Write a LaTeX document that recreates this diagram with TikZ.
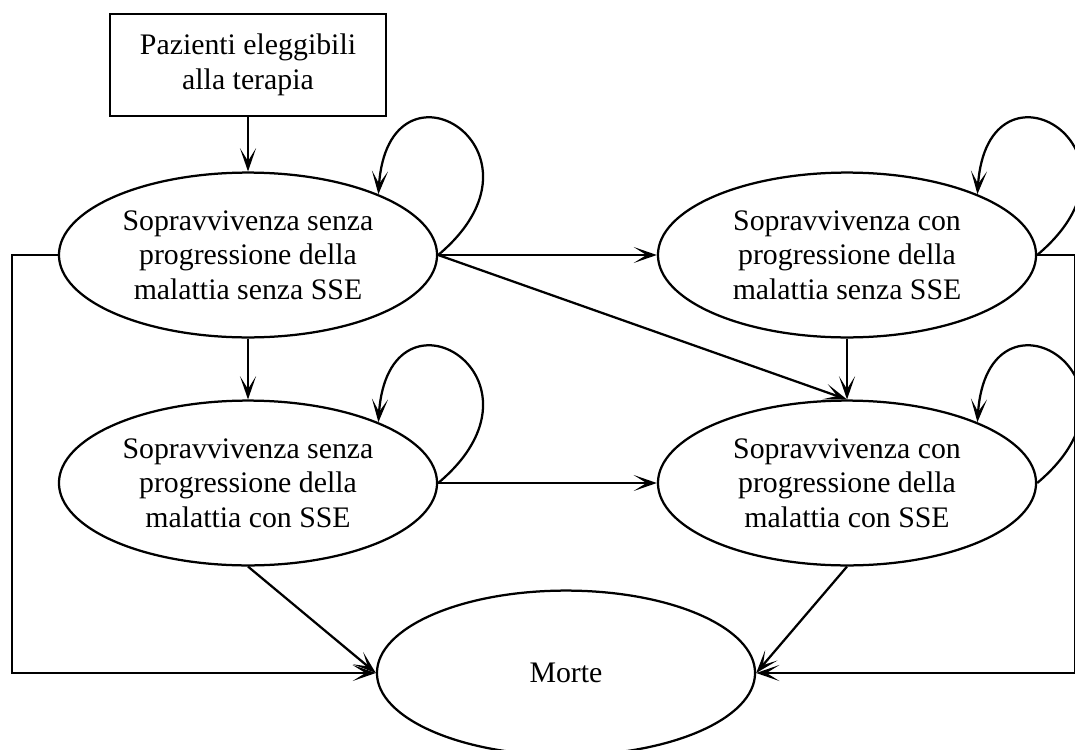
\documentclass[tikz,border=0pt]{standalone}
\usepackage{fontspec}
\setmainfont{Liberation Serif}
\usetikzlibrary{shapes.geometric,arrows.meta}

\begin{document}
\begin{tikzpicture}[x=0.025cm,y=-0.025cm,line width=1.6pt,
    every node/.style={font=\fontsize{21.2}{24.5}\selectfont,align=center},
    stateell/.style={draw,ellipse,minimum width=9.45cm,minimum height=4.12cm,inner sep=0pt},
    entrybox/.style={draw,rectangle,minimum width=6.9cm,minimum height=2.55cm},
    >={Stealth[length=5.8mm,width=4mm,inset=3.2mm]}]
    \useasboundingbox (0,0) rectangle (1075,749);
    \clip (0,0) rectangle (1075,749);

    \node[entrybox] at (248, 65) (Start) {Pazienti eleggibili\\alla terapia};

    \node[stateell] at (248, 255) (PFSno) {Sopravvivenza senza\\progressione della\\malattia senza SSE};
    \node[stateell] at (847, 255) (PDno) {Sopravvivenza con\\progressione della\\malattia senza SSE};
    \node[stateell] at (248, 483) (PFSsse) {Sopravvivenza senza\\progressione della\\malattia con SSE};
    \node[stateell] at (847, 483) (PDsse) {Sopravvivenza con\\progressione della\\malattia con SSE};
    \node[stateell] at (566, 673) (Death) {Morte};

    \coordinate (lrail) at (12, 0);
    \coordinate (rrail) at (1075, 0);

    \draw[->] (Start) -- (PFSno);
    \draw[->] (PFSno.east) -- (PDno.west);
    \draw[->] (PFSno.east) -- (PDsse.north);
    \draw[->] (PFSno) -- (PFSsse);
    \draw[->] (PDno) -- (PDsse);
    \draw[->] (PFSsse.east) -- (PDsse.west);
    \draw[->] (PFSsse.south) -- (Death.west);
    \draw[->] (PDsse.south) -- (Death.east);

    % self loops
    \draw[->] (PFSno.east) .. controls +(125,-105) and +(10,-150) .. (PFSno.25);
    \draw[->] (PDno.east) .. controls +(125,-105) and +(10,-150) .. (PDno.25);
    \draw[->] (PFSsse.east) .. controls +(125,-105) and +(10,-150) .. (PFSsse.25);
    \draw[->] (PDsse.east) .. controls +(125,-105) and +(10,-150) .. (PDsse.25);

    % outer rails to death
    \draw[->] (PFSno.west) -- (PFSno.west -| lrail) |- (Death.west);
    \draw[->] (PDno.east) -- (PDno.east -| rrail) |- (Death.east);
\end{tikzpicture}
\end{document}
